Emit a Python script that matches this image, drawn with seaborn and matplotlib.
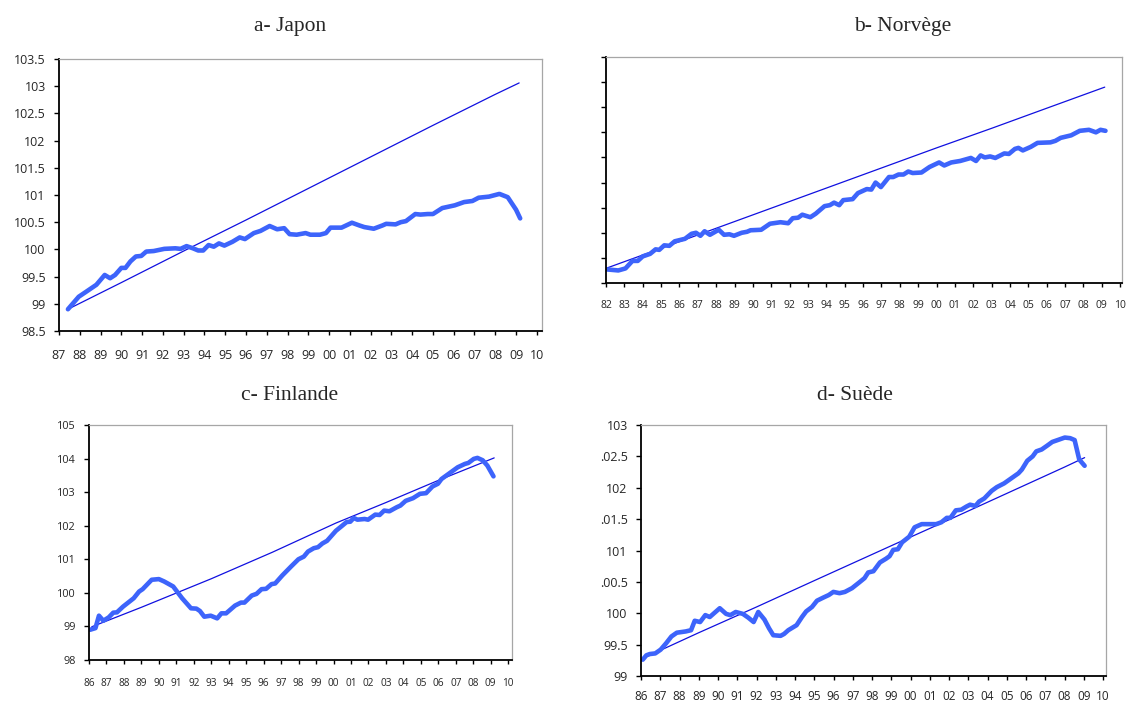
import pandas as pd
import matplotlib.pyplot as plt
import seaborn as sns

# Style général
sns.set_theme(style='ticks')
plt.rcParams['font.family'] = ['Open Sans', 'DejaVu Sans']

COL_SERIE = '#3d64fb'
COL_TREND = '#1010e0'

# ---- a- Japon ----
jp_annee = [1987.43, 1987.95, 1988.3, 1988.8, 1989.2, 1989.46, 1989.7, 1990.0, 1990.2, 1990.44,
            1990.7, 1990.96, 1991.2, 1991.56, 1992.07, 1992.6, 1992.85, 1993.14, 1993.45, 1993.7,
            1993.94, 1994.2, 1994.45, 1994.7, 1994.96, 1995.35, 1995.7, 1995.95, 1996.38, 1996.7,
            1997.14, 1997.5, 1997.84, 1998.1, 1998.44, 1998.87, 1999.1, 1999.56, 1999.85, 2000.07,
            2000.6, 2001.1, 2001.46, 2001.7, 2002.15, 2002.57, 2002.75, 2003.2, 2003.45, 2003.7,
            2004.15, 2004.4, 2004.75, 2005.0, 2005.45, 2006.05, 2006.5, 2006.9, 2007.2, 2007.7,
            2008.2, 2008.6, 2009.0, 2009.2]
jp_valeur = [98.90, 99.13, 99.22, 99.35, 99.53, 99.47, 99.53, 99.66, 99.66, 99.78,
             99.87, 99.88, 99.96, 99.97, 100.01, 100.02, 100.01, 100.06, 100.02, 99.98,
             99.98, 100.08, 100.05, 100.11, 100.07, 100.14, 100.22, 100.19, 100.30, 100.34,
             100.43, 100.37, 100.39, 100.28, 100.27, 100.30, 100.27, 100.27, 100.30, 100.40,
             100.40, 100.49, 100.44, 100.41, 100.38, 100.44, 100.47, 100.46, 100.50, 100.52,
             100.65, 100.64, 100.65, 100.65, 100.76, 100.81, 100.87, 100.89, 100.95, 100.97,
             101.02, 100.96, 100.73, 100.57]
jp_trend_annee = [1987.43, 1990.0, 1993.0, 1996.0, 1999.0, 2002.0, 2005.0, 2008.0, 2009.15]
jp_trend_valeur = [98.90, 99.39, 99.97, 100.54, 101.12, 101.70, 102.28, 102.85, 103.06]

# ---- b- Norvège ----
no_annee = [1982.06, 1982.67, 1983.06, 1983.44, 1983.73, 1984.0, 1984.4, 1984.7, 1984.9, 1985.17,
            1985.45, 1985.74, 1986.3, 1986.66, 1986.9, 1987.14, 1987.37, 1987.66, 1988.14, 1988.43,
            1988.72, 1988.97, 1989.39, 1989.68, 1989.87, 1990.45, 1990.93, 1991.5, 1991.92, 1992.17,
            1992.46, 1992.69, 1993.13, 1993.42, 1993.9, 1994.19, 1994.42, 1994.7, 1994.92, 1995.43,
            1995.72, 1996.2, 1996.45, 1996.68, 1996.97, 1997.41, 1997.64, 1997.93, 1998.2, 1998.46,
            1998.7, 1999.18, 1999.62, 2000.14, 2000.42, 2000.8, 2001.29, 2001.87, 2002.15, 2002.4,
            2002.63, 2002.92, 2003.2, 2003.69, 2003.94, 2004.27, 2004.46, 2004.7, 2005.13, 2005.5,
            2006.2, 2006.47, 2006.76, 2007.33, 2007.8, 2008.3, 2008.68, 2008.93, 2009.2]
no_valeur = [98.77, 98.75, 98.79, 98.94, 98.94, 99.03, 99.08, 99.17, 99.16, 99.25,
             99.24, 99.33, 99.38, 99.48, 99.50, 99.44, 99.53, 99.46, 99.56, 99.46,
             99.47, 99.44, 99.50, 99.52, 99.55, 99.56, 99.68, 99.71, 99.69, 99.79,
             99.80, 99.86, 99.81, 99.88, 100.03, 100.05, 100.10, 100.05, 100.15, 100.17,
             100.29, 100.37, 100.36, 100.50, 100.41, 100.61, 100.61, 100.66, 100.66, 100.72,
             100.69, 100.70, 100.81, 100.90, 100.84, 100.90, 100.93, 100.99, 100.93, 101.04,
             101.00, 101.02, 100.99, 101.08, 101.07, 101.17, 101.19, 101.14, 101.21, 101.29,
             101.30, 101.33, 101.39, 101.44, 101.53, 101.55, 101.50, 101.55, 101.53]
no_trend_annee = [1982.06, 1985.0, 1988.0, 1991.0, 1994.0, 1997.0, 2000.0, 2003.0, 2006.0, 2009.16]
no_trend_valeur = [98.80, 99.19, 99.59, 99.99, 100.39, 100.79, 101.19, 101.58, 101.98, 102.40]

# ---- c- Finlande ----
fi_annee = [1986.06, 1986.37, 1986.57, 1986.82, 1987.13, 1987.39, 1987.6, 1987.95, 1988.56, 1988.87,
            1989.07, 1989.59, 1990.0, 1990.3, 1990.82, 1991.33, 1991.84, 1992.15, 1992.35, 1992.6,
            1992.97, 1993.34, 1993.58, 1993.85, 1994.36, 1994.7, 1994.9, 1995.32, 1995.59, 1995.88,
            1996.14, 1996.45, 1996.66, 1997.07, 1997.58, 1997.99, 1998.3, 1998.54, 1998.87, 1999.11,
            1999.36, 1999.63, 2000.14, 2000.45, 2000.75, 2000.96, 2001.16, 2001.37, 2001.78, 2001.98,
            2002.39, 2002.64, 2002.9, 2003.2, 2003.62, 2003.83, 2004.13, 2004.55, 2004.95, 2005.3,
            2005.67, 2005.98, 2006.18, 2006.66, 2007.11, 2007.52, 2007.72, 2008.03, 2008.24, 2008.54,
            2008.81, 2009.16]
fi_valeur = [98.90, 98.95, 99.32, 99.17, 99.27, 99.41, 99.42, 99.59, 99.84, 100.04,
             100.11, 100.39, 100.41, 100.34, 100.19, 99.84, 99.54, 99.53, 99.46, 99.29,
             99.32, 99.24, 99.39, 99.39, 99.62, 99.71, 99.71, 99.92, 99.97, 100.11,
             100.12, 100.26, 100.28, 100.52, 100.79, 101.00, 101.08, 101.23, 101.33, 101.36,
             101.47, 101.55, 101.85, 101.98, 102.11, 102.12, 102.23, 102.18, 102.20, 102.18,
             102.33, 102.32, 102.45, 102.43, 102.55, 102.60, 102.74, 102.82, 102.95, 102.97,
             103.17, 103.25, 103.39, 103.57, 103.74, 103.84, 103.87, 103.99, 104.02, 103.95,
             103.79, 103.47]
fi_trend_annee = [1986.16, 1989.0, 1993.0, 1996.5, 2000.14, 2003.0, 2006.0, 2009.2]
fi_trend_valeur = [98.99, 99.57, 100.42, 101.21, 102.08, 102.69, 103.35, 104.02]

# ---- d- Suède ----
se_annee = [1986.09, 1986.28, 1986.46, 1986.74, 1987.02, 1987.3, 1987.58, 1987.86, 1988.32, 1988.6,
            1988.79, 1989.07, 1989.34, 1989.57, 1990.09, 1990.42, 1990.64, 1990.92, 1991.29, 1991.57,
            1991.85, 1992.09, 1992.41, 1992.65, 1992.87, 1993.25, 1993.43, 1993.65, 1994.08, 1994.36,
            1994.58, 1994.88, 1995.14, 1995.47, 1995.75, 1995.99, 1996.31, 1996.59, 1996.96, 1997.33,
            1997.61, 1997.8, 1998.07, 1998.41, 1998.73, 1998.91, 1999.1, 1999.34, 1999.56, 1999.93,
            2000.21, 2000.58, 2000.86, 2001.33, 2001.6, 2001.88, 2002.07, 2002.35, 2002.63, 2002.9,
            2003.09, 2003.37, 2003.56, 2003.83, 2004.21, 2004.48, 2004.86, 2005.23, 2005.6, 2005.78,
            2006.06, 2006.34, 2006.53, 2006.81, 2007.09, 2007.36, 2007.64, 2008.01, 2008.29, 2008.52,
            2008.76, 2009.04]
se_valeur = [99.26, 99.33, 99.35, 99.36, 99.42, 99.52, 99.63, 99.69, 99.71, 99.73,
             99.88, 99.86, 99.97, 99.94, 100.08, 99.99, 99.97, 100.02, 99.99, 99.93,
             99.86, 100.02, 99.90, 99.76, 99.65, 99.64, 99.67, 99.73, 99.81, 99.94,
             100.03, 100.10, 100.20, 100.25, 100.29, 100.34, 100.32, 100.34, 100.40, 100.49,
             100.56, 100.65, 100.67, 100.81, 100.87, 100.91, 101.01, 101.02, 101.13, 101.22,
             101.37, 101.42, 101.42, 101.42, 101.45, 101.52, 101.52, 101.64, 101.65, 101.70,
             101.73, 101.71, 101.78, 101.83, 101.95, 102.01, 102.07, 102.15, 102.23, 102.29,
             102.43, 102.50, 102.58, 102.61, 102.67, 102.73, 102.76, 102.80, 102.79, 102.76,
             102.45, 102.35]
se_trend_annee = [1986.09, 1989.0, 1992.0, 1995.0, 1999.1, 2002.0, 2005.0, 2008.0, 2009.04]
se_trend_valeur = [99.28, 99.69, 100.10, 100.52, 101.09, 101.49, 101.91, 102.33, 102.48]

# Axes X : années en deux chiffres
jp_ticks = list(range(1987, 2011))
no_ticks = list(range(1982, 2011))
fi_ticks = list(range(1986, 2011))
se_ticks = list(range(1986, 2011))

jp_yticks = [98.5, 99, 99.5, 100, 100.5, 101, 101.5, 102, 102.5, 103, 103.5]
jp_ylabels = ['98.5', '99', '99.5', '100', '100.5', '101', '101.5', '102', '102.5', '103', '103.5']
no_yticks = [98.5, 99, 99.5, 100, 100.5, 101, 101.5, 102, 102.5, 103]
fi_yticks = [98, 99, 100, 101, 102, 103, 104, 105]
fi_ylabels = ['98', '99', '100', '101', '102', '103', '104', '105']
se_yticks = [99, 99.5, 100, 100.5, 101, 101.5, 102, 102.5, 103]
se_ylabels = ['99', '99.5', '100', '.00.5', '101', '.01.5', '102', '.02.5', '103']

W, H = 1130, 702
fig = plt.figure(figsize=(W / 100, H / 100), dpi=100)


def panneau(box, titre, titre_xy, annee, valeur, t_annee, t_valeur,
            xticks, yticks, ylabels, xlim, ylim, fsx, fsy, padx):
    l, t, r, b = box
    ax = fig.add_axes([l / W, 1 - b / H, (r - l) / W, (b - t) / H])
    sns.lineplot(x=t_annee, y=t_valeur, ax=ax, color=COL_TREND, linewidth=0.9)
    sns.lineplot(x=annee, y=valeur, ax=ax, color=COL_SERIE, linewidth=3.3)
    ax.set_xlim(*xlim)
    ax.set_ylim(*ylim)
    ax.set_xticks(xticks)
    ax.set_xticklabels([f'{a % 100:02d}' for a in xticks], fontsize=fsx)
    ax.set_yticks(yticks)
    ax.set_yticklabels(ylabels, fontsize=fsy)
    ax.set_xlabel('')
    ax.set_ylabel('')
    ax.tick_params(axis='x', direction='out', length=3, width=1, color='black', pad=padx)
    ax.tick_params(axis='y', direction='out', length=3.6, width=1, color='black', pad=6)
    for s in ['left', 'bottom']:
        ax.spines[s].set_color('black')
        ax.spines[s].set_linewidth(1.3)
    for s in ['top', 'right']:
        ax.spines[s].set_color('#a6a6a6')
        ax.spines[s].set_linewidth(0.9)
    fig.text(titre_xy[0] / W, 1 - titre_xy[1] / H, titre, ha='center', va='center',
             fontsize=15.5, family=['Liberation Serif', 'DejaVu Serif'])
    return ax


panneau((59, 59, 542, 331), 'a- Japon', (290, 27), jp_annee, jp_valeur,
        jp_trend_annee, jp_trend_valeur, jp_ticks, jp_yticks, jp_ylabels,
        (1987, 2010.25), (98.5, 103.5), 9, 9, 10)
panneau((606, 57, 1122, 283), 'b- Norvège', (903, 27), no_annee, no_valeur,
        no_trend_annee, no_trend_valeur, no_ticks, no_yticks, [''] * len(no_yticks),
        (1982, 2010.1), (98.5, 103), 7.5, 7.5, 9)
panneau((89, 425, 512, 660), 'c- Finlande', (290, 395), fi_annee, fi_valeur,
        fi_trend_annee, fi_trend_valeur, fi_ticks, fi_yticks, fi_ylabels,
        (1986, 2010.22), (98, 105), 7.2, 7.8, 10)
panneau((641, 425, 1106, 676), 'd- Suède', (855, 395), se_annee, se_valeur,
        se_trend_annee, se_trend_valeur, se_ticks, se_yticks, se_ylabels,
        (1986, 2010.15), (99, 103), 8.5, 9, 7)

plt.savefig('out.png', dpi=100)
plt.close()
